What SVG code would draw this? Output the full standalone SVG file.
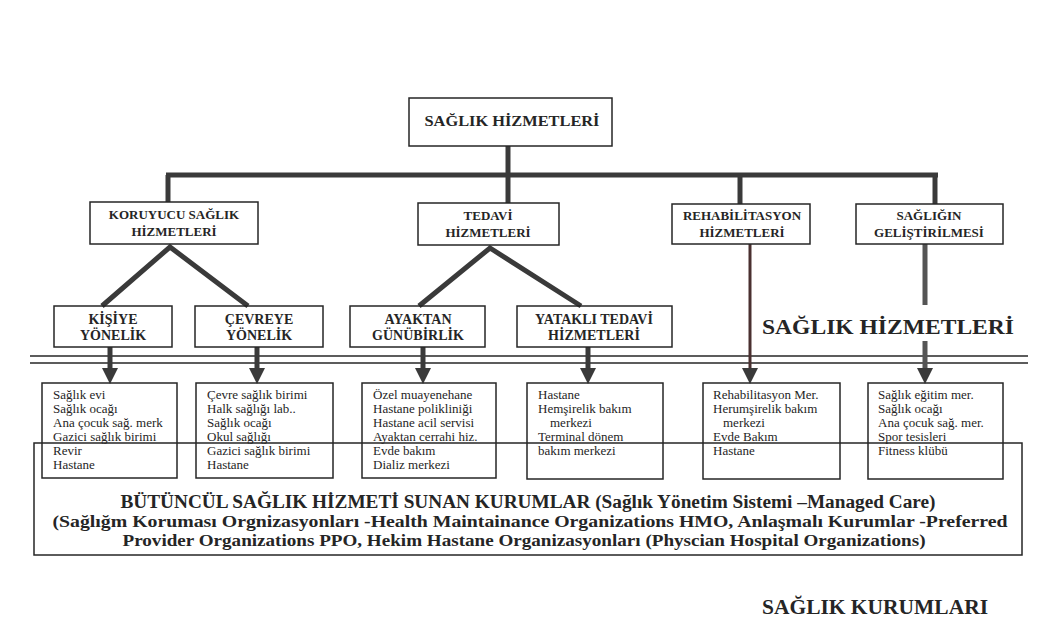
<svg xmlns="http://www.w3.org/2000/svg" width="1061" height="640" viewBox="0 0 1061 640">
<style>
.box{fill:none;stroke:#262626;stroke-width:1.5}
.h{font-family:"Liberation Serif",serif;font-weight:bold;fill:#252525;text-anchor:middle}
.h2{font-size:13px}
.h3{font-size:14px}
.l{font-family:"Liberation Serif",serif;font-size:13px;fill:#252525}
.c{stroke:#3a3a3a;stroke-width:5;fill:none;stroke-linejoin:miter}
.t{stroke:#262626;stroke-width:1.4;fill:none}
</style>
<defs>
<marker id="ah" viewBox="0 0 16 16" refX="0" refY="8" markerWidth="16" markerHeight="16" markerUnits="userSpaceOnUse" orient="auto">
<path d="M0,0 L16,8 L0,16 z" fill="#3a3a3a"/>
</marker>
</defs>
<rect width="1061" height="640" fill="#fff"/>

<g id="connectors">
<line class="c" x1="508" y1="146" x2="508" y2="175"/>
<line class="c" x1="166" y1="175" x2="938" y2="175"/>
<line class="c" x1="168" y1="175" x2="168" y2="202"/>
<line class="c" x1="508" y1="175" x2="508" y2="203"/>
<line class="c" x1="740" y1="175" x2="740" y2="204"/>
<line class="c" x1="935" y1="175" x2="935" y2="204"/>
<polyline class="c" points="102,306 170,247 248,306"/>
<polyline class="c" points="419,306 490,248 581,306"/>
<line class="t" x1="30" y1="356" x2="1028" y2="356"/>
<line class="t" x1="30" y1="363" x2="1028" y2="363"/>
<line class="c" x1="110" y1="347" x2="110" y2="368" marker-end="url(#ah)"/>
<line class="c" x1="257" y1="347" x2="257" y2="368" marker-end="url(#ah)"/>
<line class="c" x1="423" y1="347" x2="423" y2="368" marker-end="url(#ah)"/>
<line class="c" x1="588" y1="347" x2="588" y2="368" marker-end="url(#ah)"/>
<line class="c" style="stroke-width:3;stroke:#4a3030" x1="750" y1="244" x2="750" y2="368" marker-end="url(#ah)"/>
<line class="c" style="stroke:#555" x1="925" y1="244" x2="925" y2="305"/>
<line class="c" style="stroke:#555" x1="925" y1="341" x2="925" y2="368" marker-end="url(#ah)"/>
</g>

<g id="n-root">
<rect class="box" x="409" y="98" width="203" height="48"/>
<text class="h" x="512" y="126" font-size="15" textLength="175" lengthAdjust="spacingAndGlyphs">SAĞLIK  HİZMETLERİ</text>
</g>

<g id="n-koruyucu">
<rect class="box" x="90" y="202" width="168" height="42"/>
<text class="h h2" x="174" y="219">KORUYUCU SAĞLIK</text>
<text class="h h2" x="174" y="236">HİZMETLERİ</text>
</g>
<g id="n-tedavi">
<rect class="box" x="418" y="203" width="141" height="42"/>
<text class="h h2" x="488" y="220">TEDAVİ</text>
<text class="h h2" x="488" y="237">HİZMETLERİ</text>
</g>
<g id="n-rehab">
<rect class="box" x="672" y="204" width="138" height="40"/>
<text class="h h2" x="742" y="220">REHABİLİTASYON</text>
<text class="h h2" x="742" y="237">HİZMETLERİ</text>
</g>
<g id="n-gelistirme">
<rect class="box" x="856" y="204" width="147" height="40"/>
<text class="h h2" x="929" y="220">SAĞLIĞIN</text>
<text class="h h2" x="929" y="237">GELİŞTİRİLMESİ</text>
</g>

<g id="n-kisiye">
<rect class="box" x="54" y="306" width="118" height="41"/>
<text class="h h3" x="113" y="324">KİŞİYE</text>
<text class="h h3" x="113" y="340">YÖNELİK</text>
</g>
<g id="n-cevreye">
<rect class="box" x="195" y="306" width="128" height="41"/>
<text class="h h3" x="259" y="324">ÇEVREYE</text>
<text class="h h3" x="259" y="340">YÖNELİK</text>
</g>
<g id="n-ayaktan">
<rect class="box" x="350" y="306" width="135" height="41"/>
<text class="h h3" x="418" y="324">AYAKTAN</text>
<text class="h h3" x="418" y="340">GÜNÜBİRLİK</text>
</g>
<g id="n-yatakli">
<rect class="box" x="517" y="306" width="155" height="41"/>
<text class="h h3" x="594" y="324">YATAKLI TEDAVİ</text>
<text class="h h3" x="594" y="340">HİZMETLERİ</text>
</g>

<text class="h" x="888" y="334" font-size="21" textLength="252" lengthAdjust="spacingAndGlyphs">SAĞLIK HİZMETLERİ</text>

<g id="n-list1">
<rect class="box" x="42" y="383" width="135" height="95"/>
<text class="l" x="53" y="399">Sağlık evi</text>
<text class="l" x="53" y="413">Sağlık ocağı</text>
<text class="l" x="53" y="427">Ana çocuk sağ. merk</text>
<text class="l" x="53" y="441">Gazici sağlık birimi</text>
<text class="l" x="53" y="455">Revir</text>
<text class="l" x="53" y="469">Hastane</text>
</g>
<g id="n-list2">
<rect class="box" x="196" y="383" width="137" height="95"/>
<text class="l" x="207" y="399">Çevre sağlık birimi</text>
<text class="l" x="207" y="413">Halk sağlığı  lab..</text>
<text class="l" x="207" y="427">Sağlık ocağı</text>
<text class="l" x="207" y="441">Okul sağlığı</text>
<text class="l" x="207" y="455">Gazici sağlık birimi</text>
<text class="l" x="207" y="469">Hastane</text>
</g>
<g id="n-list3">
<rect class="box" x="362" y="383" width="134" height="95"/>
<text class="l" x="373" y="399">Özel muayenehane</text>
<text class="l" x="373" y="413">Hastane polikliniği</text>
<text class="l" x="373" y="427">Hastane acil servisi</text>
<text class="l" x="373" y="441">Ayaktan cerrahi hiz.</text>
<text class="l" x="373" y="455">Evde bakım</text>
<text class="l" x="373" y="469">Dializ  merkezi</text>
</g>
<g id="n-list4">
<rect class="box" x="527" y="383" width="136" height="96"/>
<text class="l" x="538" y="399">Hastane</text>
<text class="l" x="538" y="413">Hemşirelik bakım</text>
<text class="l" x="550" y="427">merkezi</text>
<text class="l" x="538" y="441">Terminal dönem</text>
<text class="l" x="538" y="455">bakım merkezi</text>
</g>
<g id="n-list5">
<rect class="box" x="703" y="383" width="137" height="96"/>
<text class="l" x="713" y="399">Rehabilitasyon Mer.</text>
<text class="l" x="713" y="413">Herumşirelik bakım</text>
<text class="l" x="723" y="427">merkezi</text>
<text class="l" x="713" y="441">Evde Bakım</text>
<text class="l" x="713" y="455">Hastane</text>
</g>
<g id="n-list6">
<rect class="box" x="868" y="383" width="135" height="96"/>
<text class="l" x="878" y="399">Sağlık eğitim mer.</text>
<text class="l" x="878" y="413">Sağlık ocağı</text>
<text class="l" x="878" y="427">Ana çocuk sağ. mer.</text>
<text class="l" x="878" y="441">Spor  tesisleri</text>
<text class="l" x="878" y="455">Fitness klübü</text>
</g>

<g id="n-butuncul">
<rect class="box" x="34" y="443" width="988" height="112"/>
<text class="h" x="528" y="508" font-size="18" textLength="815" lengthAdjust="spacingAndGlyphs">BÜTÜNCÜL SAĞLIK HİZMETİ SUNAN KURUMLAR (Sağlık Yönetim Sistemi –Managed Care)</text>
<text class="h" x="530" y="527" font-size="17" textLength="955" lengthAdjust="spacingAndGlyphs">(Sağlığm Koruması Orgnizasyonları -Health Maintainance Organizations HMO, Anlaşmalı Kurumlar -Preferred</text>
<text class="h" x="524" y="546" font-size="17" textLength="803" lengthAdjust="spacingAndGlyphs">Provider Organizations PPO,  Hekim Hastane Organizasyonları (Physcian Hospital Organizations)</text>
</g>

<text class="h" x="875" y="614" font-size="20" textLength="226" lengthAdjust="spacingAndGlyphs">SAĞLIK KURUMLARI</text>
</svg>
